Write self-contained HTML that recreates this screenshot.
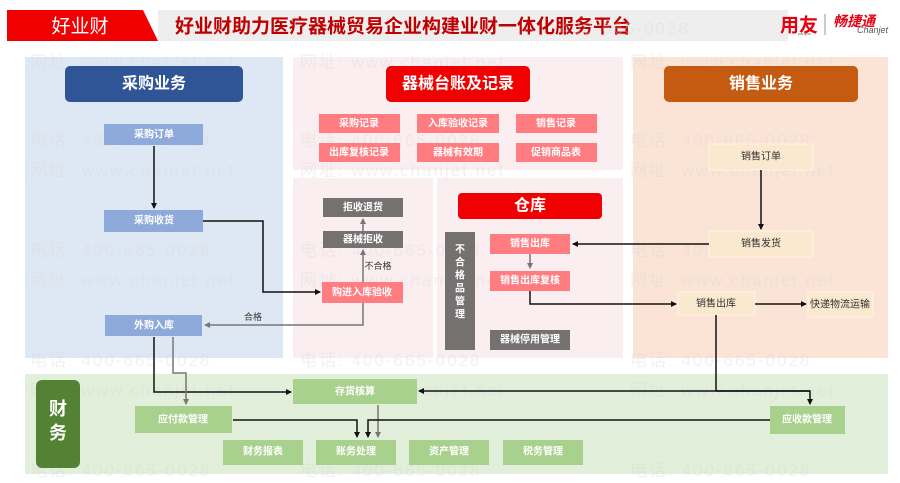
<!DOCTYPE html>
<html><head><meta charset="utf-8"><style>
html,body{margin:0;padding:0;background:#fff;}
svg{display:block;font-family:"Liberation Sans","Noto Sans CJK SC",sans-serif;}
.w{fill:#fff;font-size:10px;font-weight:bold;text-anchor:middle;dominant-baseline:central;}
.d{fill:#333;font-size:10px;text-anchor:middle;dominant-baseline:central;}
.wm{fill:#d8d8d8;font-size:17px;opacity:0.35;letter-spacing:2px;}
</style></head><body>
<svg width="900" height="483" viewBox="0 0 900 483" xmlns="http://www.w3.org/2000/svg">
<defs>
<marker id="ab" markerWidth="6" markerHeight="6" refX="5" refY="3" orient="auto" markerUnits="userSpaceOnUse"><path d="M0,0L6,3L0,6z" fill="#111"/></marker>
<marker id="ag" markerWidth="6" markerHeight="6" refX="5" refY="3" orient="auto" markerUnits="userSpaceOnUse"><path d="M0,0L6,3L0,6z" fill="#777"/></marker>
</defs>
<rect x="158" y="10" width="630" height="31" fill="#eeeeee"/>
<path d="M7,10H143L158,41H7z" fill="#f00000"/>
<text x="80" y="27" fill="#fff" font-size="19" text-anchor="middle" dominant-baseline="central">好业财</text>
<text x="175" y="27" fill="#c00000" font-size="19" font-weight="bold" dominant-baseline="central">好业财助力医疗器械贸易企业构建业财一体化服务平台</text>
<text x="780" y="26" fill="#e60012" font-size="19" font-weight="bold" dominant-baseline="central">用友</text>
<text x="798" y="35" fill="#666" font-size="4">yonyou</text>
<line x1="825" y1="14" x2="825" y2="35" stroke="#999"/>
<text x="833" y="21" fill="#e60012" font-size="14" font-weight="bold" font-style="italic" dominant-baseline="central">畅捷通</text>
<text x="888" y="33" fill="#555" font-size="9" font-style="italic" text-anchor="end">Chanjet</text>
<rect x="25" y="57" width="258" height="301" fill="#dde8f4"/>
<rect x="293" y="57" width="330" height="113" fill="#fbeef1"/>
<rect x="293" y="178" width="140" height="180" fill="#fbeef1"/>
<rect x="437" y="178" width="186" height="180" fill="#fbeef1"/>
<rect x="633" y="57" width="255" height="301" fill="#fbe4d6"/>
<rect x="25" y="374" width="863" height="100" fill="#e2efda"/>
<g class="wm">
<text x="30" y="68">网址: www.chanjet.net</text><text x="300" y="68">网址: www.chanjet.net</text><text x="630" y="68">网址: www.chanjet.net</text>
<text x="30" y="146">电话: 400-665-0028</text><text x="300" y="146">电话: 400-665-0028</text><text x="630" y="146">电话: 400-665-0028</text>
<text x="30" y="176">网址: www.chanjet.net</text><text x="300" y="176">网址: www.chanjet.net</text><text x="630" y="176">网址: www.chanjet.net</text>
<text x="30" y="256">电话: 400-665-0028</text><text x="300" y="256">电话: 400-665-0028</text><text x="630" y="256">电话: 400-665-0028</text>
<text x="30" y="286">网址: www.chanjet.net</text><text x="300" y="286">网址: www.chanjet.net</text><text x="630" y="286">网址: www.chanjet.net</text>
<text x="30" y="366">电话: 400-665-0028</text><text x="300" y="366">电话: 400-665-0028</text><text x="630" y="366">电话: 400-665-0028</text>
<text x="30" y="396">网址: www.chanjet.net</text><text x="300" y="396">网址: www.chanjet.net</text><text x="630" y="396">网址: www.chanjet.net</text>
<text x="30" y="476">电话: 400-665-0028</text><text x="300" y="476">电话: 400-665-0028</text><text x="630" y="476">电话: 400-665-0028</text>
<text x="560" y="34">400-665-0028</text>
</g>
<rect x="65" y="66" width="178" height="36" rx="5" fill="#2f5597"/><text x="154" y="84" fill="#fff" font-size="16" font-weight="bold" text-anchor="middle" dominant-baseline="central">采购业务</text>
<rect x="386" y="66" width="144" height="36" rx="5" fill="#f00000"/><text x="458" y="84" fill="#fff" font-size="16" font-weight="bold" text-anchor="middle" dominant-baseline="central">器械台账及记录</text>
<rect x="664" y="66" width="194" height="36" rx="5" fill="#c55a11"/><text x="761" y="84" fill="#fff" font-size="16" font-weight="bold" text-anchor="middle" dominant-baseline="central">销售业务</text>
<rect x="458" y="193" width="144" height="26" rx="4" fill="#f00000"/><text x="530" y="206" fill="#fff" font-size="16" font-weight="bold" text-anchor="middle" dominant-baseline="central">仓库</text>
<g fill="#ff7c80">
<rect x="319" y="114" width="81" height="19"/><rect x="417" y="114" width="82" height="19"/><rect x="516" y="114" width="81" height="19"/>
<rect x="319" y="143" width="81" height="19"/><rect x="417" y="143" width="82" height="19"/><rect x="516" y="143" width="81" height="19"/>
</g>
<text class="w" x="359" y="124">采购记录</text><text class="w" x="458" y="124">入库验收记录</text><text class="w" x="556" y="124">销售记录</text>
<text class="w" x="359" y="153">出库复核记录</text><text class="w" x="458" y="153">器械有效期</text><text class="w" x="556" y="153">促销商品表</text>
<g fill="#8eaadb">
<rect x="104" y="124" width="99" height="21"/><rect x="104" y="210" width="99" height="22"/><rect x="105" y="315" width="97" height="21"/>
</g>
<text class="w" x="154" y="135">采购订单</text><text class="w" x="154" y="221">采购收货</text><text class="w" x="154" y="326">外购入库</text>
<rect x="323" y="198" width="80" height="19" fill="#767171"/><text class="w" x="363" y="208">拒收退货</text>
<rect x="323" y="231" width="80" height="17" fill="#767171"/><text class="w" x="363" y="240">器械拒收</text>
<rect x="322" y="282" width="81" height="21" fill="#ff7c80"/><text class="w" x="362" y="293">购进入库验收</text>
<rect x="445" y="232" width="30" height="118" fill="#767171"/>
<text class="w" x="460" y="250">不</text><text class="w" x="460" y="263">合</text><text class="w" x="460" y="276">格</text><text class="w" x="460" y="289">品</text><text class="w" x="460" y="302">管</text><text class="w" x="460" y="315">理</text>
<rect x="490" y="234" width="80" height="20" fill="#ff7c80"/><text class="w" x="530" y="244">销售出库</text>
<rect x="490" y="271" width="80" height="20" fill="#ff7c80"/><text class="w" x="530" y="281">销售出库复核</text>
<rect x="490" y="330" width="80" height="20" fill="#767171"/><text class="w" x="530" y="340">器械停用管理</text>
<g fill="#fbe9cf" stroke="#fff4e4">
<rect x="709" y="144" width="104" height="26"/><rect x="709" y="231" width="104" height="26"/><rect x="678" y="292" width="77" height="23"/><rect x="808" y="292" width="65" height="25"/>
</g>
<text class="d" x="761" y="157">销售订单</text><text class="d" x="761" y="244">销售发货</text><text class="d" x="716" y="304">销售出库</text><text class="d" x="840" y="305">快递物流运输</text>
<rect x="36" y="380" width="44" height="88" rx="6" fill="#548235"/>
<text x="58" y="409" fill="#fff" font-size="18" font-weight="bold" text-anchor="middle" dominant-baseline="central">财</text>
<text x="58" y="433" fill="#fff" font-size="18" font-weight="bold" text-anchor="middle" dominant-baseline="central">务</text>
<g fill="#a9d18e">
<rect x="293" y="379" width="124" height="25"/><rect x="135" y="406" width="97" height="27"/><rect x="770" y="406" width="75" height="28"/>
<rect x="223" y="440" width="80" height="25"/><rect x="316" y="440" width="80" height="25"/><rect x="409" y="440" width="80" height="25"/><rect x="503" y="440" width="80" height="25"/>
</g>
<text class="w" x="355" y="392">存货核算</text><text class="w" x="183" y="420">应付款管理</text><text class="w" x="807" y="420">应收款管理</text>
<text class="w" x="263" y="452">财务报表</text><text class="w" x="356" y="452">账务处理</text><text class="w" x="449" y="452">资产管理</text><text class="w" x="543" y="452">税务管理</text>
<g fill="none" stroke-width="1.5">
<path d="M154,146V208" stroke="#111" marker-end="url(#ab)"/>
<path d="M203,221H263V292H320" stroke="#111" marker-end="url(#ab)"/>
<path d="M363,282V250" stroke="#777" marker-end="url(#ag)"/>
<path d="M363,231V219" stroke="#777" marker-end="url(#ag)"/>
<path d="M363,303V325H205" stroke="#777" marker-end="url(#ag)"/>
<path d="M154,337V392H291" stroke="#111" marker-end="url(#ab)"/>
<path d="M173,337V373H186V404" stroke="#777" marker-end="url(#ag)"/>
<path d="M233,420H357V437" stroke="#111" marker-end="url(#ab)"/>
<path d="M378,405V437" stroke="#777" marker-end="url(#ag)"/>
<path d="M770,420H368V437" stroke="#111" marker-end="url(#ab)"/>
<path d="M716,315V391" stroke="#111"/>
<path d="M810,391H419" stroke="#111" marker-end="url(#ab)"/>
<path d="M716,391H810V404" stroke="#111" marker-end="url(#ab)"/>
<path d="M761,170V229" stroke="#111" marker-end="url(#ab)"/>
<path d="M709,244H573" stroke="#111" marker-end="url(#ab)"/>
<path d="M530,254V268" stroke="#777" marker-end="url(#ag)"/>
<path d="M530,291V304H676" stroke="#111" marker-end="url(#ab)"/>
<path d="M755,304H806" stroke="#111" marker-end="url(#ab)"/>
</g>
<text x="378" y="266" fill="#333" font-size="9" text-anchor="middle" dominant-baseline="central">不合格</text>
<text x="253" y="317" fill="#333" font-size="9" text-anchor="middle" dominant-baseline="central">合格</text>
</svg>
</body></html>
